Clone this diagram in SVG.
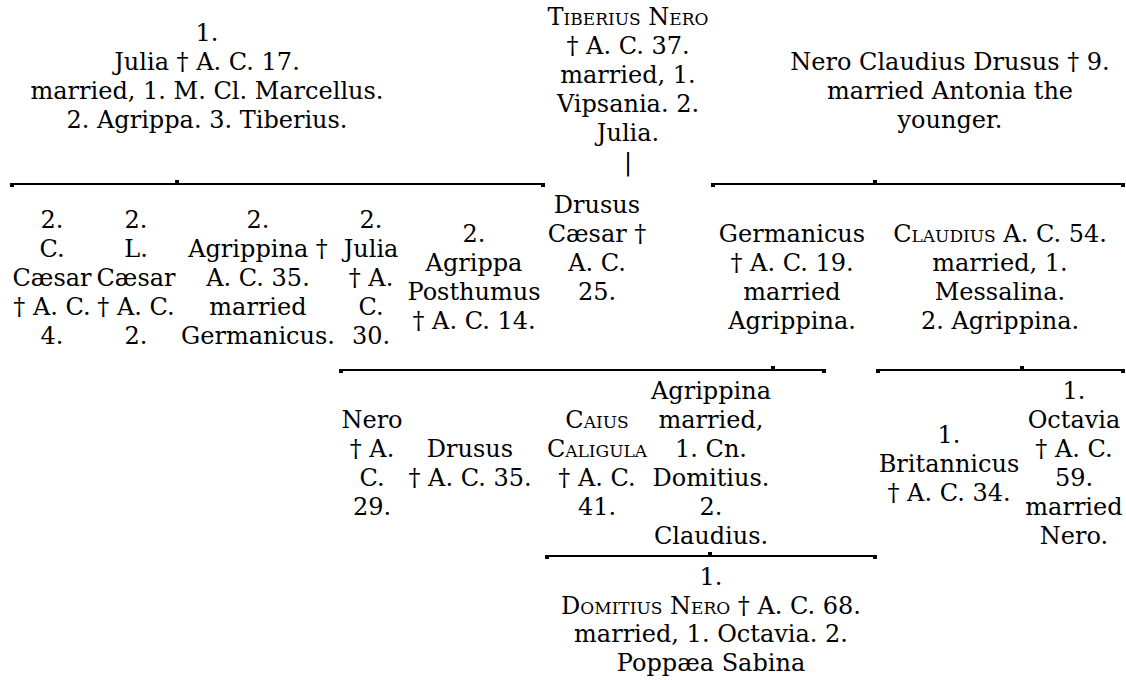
<svg xmlns="http://www.w3.org/2000/svg" width="1126" height="680" viewBox="0 0 1126 680">
<style>
.t{font-family:"DejaVu Serif","Liberation Serif",serif;font-size:24px;text-anchor:middle;fill:#000}
.sc{font-size:17px}
.bar{stroke:#000;stroke-width:2;fill:none}
.tk{fill:#000}
</style>
<rect width="1126" height="680" fill="#fff"/>
<g id="connectors">
<path class="bar" d="M10 184H545"/>
<rect class="tk" x="10" y="183" width="4" height="4"/><rect class="tk" x="175" y="180" width="4" height="4"/><rect class="tk" x="541" y="183" width="4" height="4"/>
<path class="bar" d="M711 184H1125"/>
<rect class="tk" x="711" y="183" width="4" height="4"/><rect class="tk" x="873" y="180" width="4" height="4"/><rect class="tk" x="1121" y="183" width="4" height="4"/>
<path class="bar" d="M339 370H826"/>
<rect class="tk" x="339" y="369" width="4" height="4"/><rect class="tk" x="771" y="366" width="4" height="4"/><rect class="tk" x="822" y="369" width="4" height="4"/>
<path class="bar" d="M876 370H1125"/>
<rect class="tk" x="876" y="369" width="4" height="4"/><rect class="tk" x="1020" y="366" width="4" height="4"/><rect class="tk" x="1121" y="369" width="4" height="4"/>
<path class="bar" d="M545 556H877"/>
<rect class="tk" x="545" y="555" width="4" height="4"/><rect class="tk" x="708" y="552" width="4" height="4"/><rect class="tk" x="873" y="555" width="4" height="4"/>
</g>
<g id="julia">
<text class="t" x="207" y="41">1.</text>
<text class="t" x="207" y="70">Julia † A. C. 17.</text>
<text class="t" x="207" y="99">married, 1. M. Cl. Marcellus.</text>
<text class="t" x="207" y="128">2. Agrippa. 3. Tiberius.</text>
</g>
<g id="tiberius">
<text class="t" x="628" y="25">T<tspan class="sc">IBERIUS</tspan> N<tspan class="sc">ERO</tspan></text>
<text class="t" x="628" y="54">† A. C. 37.</text>
<text class="t" x="628" y="83">married, 1.</text>
<text class="t" x="628" y="112">Vipsania. 2.</text>
<text class="t" x="628" y="141">Julia.</text>
<text class="t" x="628" y="170">|</text>
</g>
<g id="drusus-senior">
<text class="t" x="950" y="70">Nero Claudius Drusus † 9.</text>
<text class="t" x="950" y="99">married Antonia the</text>
<text class="t" x="950" y="128">younger.</text>
</g>
<g id="gaius-caesar">
<text class="t" x="52" y="228">2.</text>
<text class="t" x="52" y="257">C.</text>
<text class="t" x="52" y="286">Cæsar</text>
<text class="t" x="52" y="315">† A. C.</text>
<text class="t" x="52" y="344">4.</text>
</g>
<g id="lucius-caesar">
<text class="t" x="136" y="228">2.</text>
<text class="t" x="136" y="257">L.</text>
<text class="t" x="136" y="286">Cæsar</text>
<text class="t" x="136" y="315">† A. C.</text>
<text class="t" x="136" y="344">2.</text>
</g>
<g id="agrippina-elder">
<text class="t" x="258" y="228">2.</text>
<text class="t" x="258" y="257">Agrippina †</text>
<text class="t" x="258" y="286">A. C. 35.</text>
<text class="t" x="258" y="315">married</text>
<text class="t" x="258" y="344">Germanicus.</text>
</g>
<g id="julia-younger">
<text class="t" x="371" y="228">2.</text>
<text class="t" x="371" y="257">Julia</text>
<text class="t" x="371" y="286">† A.</text>
<text class="t" x="371" y="315">C.</text>
<text class="t" x="371" y="344">30.</text>
</g>
<g id="agrippa-posthumus">
<text class="t" x="474" y="242">2.</text>
<text class="t" x="474" y="271">Agrippa</text>
<text class="t" x="474" y="300">Posthumus</text>
<text class="t" x="474" y="329">† A. C. 14.</text>
</g>
<g id="drusus-caesar">
<text class="t" x="597" y="213">Drusus</text>
<text class="t" x="597" y="242">Cæsar †</text>
<text class="t" x="597" y="271">A. C.</text>
<text class="t" x="597" y="300">25.</text>
</g>
<g id="germanicus">
<text class="t" x="792" y="242">Germanicus</text>
<text class="t" x="792" y="271">† A. C. 19.</text>
<text class="t" x="792" y="300">married</text>
<text class="t" x="792" y="329">Agrippina.</text>
</g>
<g id="claudius">
<text class="t" x="1000" y="242">C<tspan class="sc">LAUDIUS</tspan> A. C. 54.</text>
<text class="t" x="1000" y="271">married, 1.</text>
<text class="t" x="1000" y="300">Messalina.</text>
<text class="t" x="1000" y="329">2. Agrippina.</text>
</g>
<g id="nero-son">
<text class="t" x="372" y="428">Nero</text>
<text class="t" x="372" y="457">† A.</text>
<text class="t" x="372" y="486">C.</text>
<text class="t" x="372" y="515">29.</text>
</g>
<g id="drusus-son">
<text class="t" x="470" y="457">Drusus</text>
<text class="t" x="470" y="486">† A. C. 35.</text>
</g>
<g id="caligula">
<text class="t" x="597" y="428">C<tspan class="sc">AIUS</tspan></text>
<text class="t" x="597" y="457">C<tspan class="sc">ALIGULA</tspan></text>
<text class="t" x="597" y="486">† A. C.</text>
<text class="t" x="597" y="515">41.</text>
</g>
<g id="agrippina-younger">
<text class="t" x="711" y="399">Agrippina</text>
<text class="t" x="711" y="428">married,</text>
<text class="t" x="711" y="457">1. Cn.</text>
<text class="t" x="711" y="486">Domitius.</text>
<text class="t" x="711" y="515">2.</text>
<text class="t" x="711" y="544">Claudius.</text>
</g>
<g id="britannicus">
<text class="t" x="949" y="443">1.</text>
<text class="t" x="949" y="472">Britannicus</text>
<text class="t" x="949" y="501">† A. C. 34.</text>
</g>
<g id="octavia">
<text class="t" x="1074" y="399">1.</text>
<text class="t" x="1074" y="428">Octavia</text>
<text class="t" x="1074" y="457">† A. C.</text>
<text class="t" x="1074" y="486">59.</text>
<text class="t" x="1074" y="515">married</text>
<text class="t" x="1074" y="544">Nero.</text>
</g>
<g id="domitius-nero">
<text class="t" x="711" y="585">1.</text>
<text class="t" x="711" y="613.5">D<tspan class="sc">OMITIUS</tspan> N<tspan class="sc">ERO</tspan> † A. C. 68.</text>
<text class="t" x="711" y="642">married, 1. Octavia. 2.</text>
<text class="t" x="711" y="670.5">Poppæa Sabina</text>
</g>
</svg>
